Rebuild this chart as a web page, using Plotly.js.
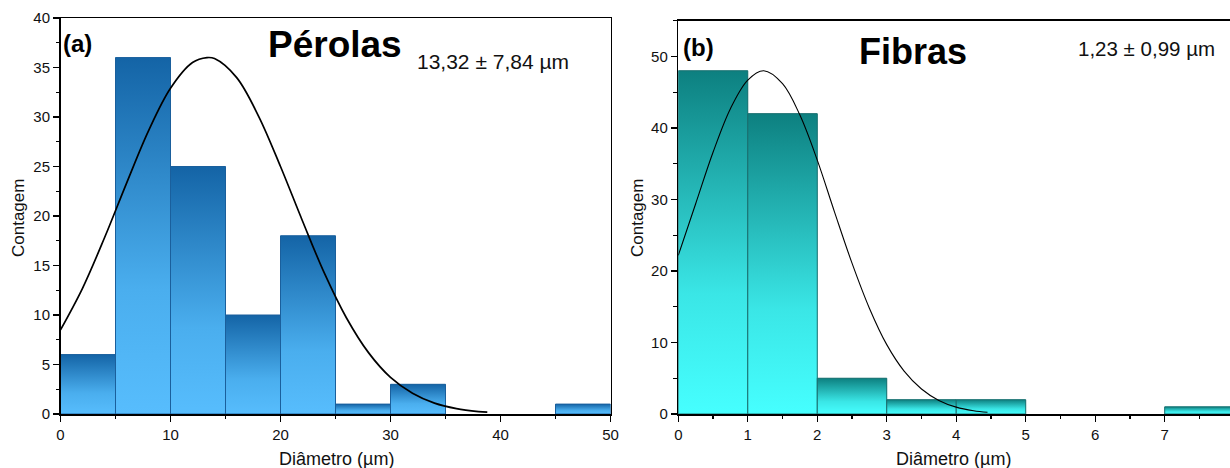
<!DOCTYPE html>
<html>
<head>
<meta charset="utf-8">
<script src="https://cdn.plot.ly/plotly-3.0.1.min.js"></script>
<style>html,body{margin:0;padding:0;background:#fff}#chart{width:1230px;height:468px}</style>
</head>
<body>
<div id="chart"></div>
<script>
// ---- data ----
const perolasBinStart = [0, 5, 10, 15, 20, 25, 30, 35, 40, 45];
const perolasCounts   = [6, 36, 25, 10, 18, 1, 3, 0, 0, 1];
const perolasBinWidth = 5;
const perolasFitX = [0, 2, 4, 6, 8, 10, 12, 13.32, 14, 16, 18, 20, 22, 24, 26, 28, 30, 32, 34, 36, 38, 38.8];
const perolasFitY = [8.5, 12.7, 17.8, 23.3, 28.6, 32.9, 35.5, 36, 35.9, 34.0, 30.1, 25.0, 19.5, 14.2, 9.7, 6.2, 3.7, 2.1, 1.1, 0.55, 0.25, 0.18];

const fibrasBinStart = [0, 1, 2, 3, 4, 5, 6, 7];
const fibrasCounts   = [48, 42, 5, 2, 2, 0, 0, 1];
const fibrasBinWidth = 1;
const fibrasFitX = [0, 0.25, 0.5, 0.75, 1.0, 1.23, 1.5, 1.75, 2.0, 2.25, 2.5, 2.75, 3.0, 3.25, 3.5, 3.75, 4.0, 4.25, 4.45];
const fibrasFitY = [22.2, 29.4, 36.6, 42.7, 46.7, 48, 46.2, 41.8, 35.5, 28.2, 21.1, 14.8, 9.7, 6.0, 3.5, 1.9, 0.96, 0.46, 0.24];

const yTitle = 'Contagem';
const xTitle = 'Diâmetro (µm)';

// ---- styles ----
const FONT = 'Arial, "Liberation Sans", sans-serif';
const blueScale = [[0, '#57bdfd'], [0.35, '#4aaeee'], [1, '#1464a6']];
const tealScale = [[0, '#46ffff'], [0.35, '#3ae6e6'], [1, '#0d8080']];

function histTraces(starts, counts, w, xa, ya, scale, edge, mid) {
  const out = [];
  out.push({
    type: 'bar', x: starts.map(s => s + w / 2), y: counts, width: w,
    xaxis: xa, yaxis: ya, marker: {color: mid, line: {width: 0}}, hoverinfo: 'x+y'
  });
  starts.forEach((s, i) => {
    const c = counts[i];
    if (c <= 0) return;
    out.push({
      type: 'scatter', mode: 'lines', xaxis: xa, yaxis: ya,
      x: [s, s, s + w, s + w, s], y: [0, c, c, 0, 0],
      fill: 'toself',
      fillgradient: {type: 'vertical', colorscale: scale},
      line: {color: edge, width: 1}, hoverinfo: 'skip'
    });
  });
  return out;
}

const data = [].concat(
  histTraces(perolasBinStart, perolasCounts, perolasBinWidth, 'x', 'y', blueScale, '#1a5f9c', '#3a95d8'),
  histTraces(fibrasBinStart, fibrasCounts, fibrasBinWidth, 'x2', 'y2', tealScale, '#1b6f6f', '#2ac2c2'),
  [
    {type: 'scatter', mode: 'lines', x: perolasFitX, y: perolasFitY, xaxis: 'x', yaxis: 'y',
     line: {color: '#000', width: 1.7, shape: 'spline'}},
    {type: 'scatter', mode: 'lines', x: fibrasFitX, y: fibrasFitY, xaxis: 'x2', yaxis: 'y2',
     line: {color: '#000', width: 1.1, shape: 'spline'}}
  ]
);

const axBase = {
  showgrid: false, zeroline: false, showline: true, linecolor: '#000', linewidth: 1.5,
  ticks: 'outside', ticklen: 6, tickwidth: 1.3, tickcolor: '#000',
  tickfont: {family: FONT, size: 15, color: '#111'}, fixedrange: true
};

const W = 1230, H = 468;
const px = v => v / W, py = v => 1 - v / H;

const layout = {
  width: W, height: H,
  margin: {l: 0, r: 0, t: 0, b: 0},
  paper_bgcolor: '#fff', plot_bgcolor: '#fff',
  showlegend: false,
  font: {family: FONT, color: '#111'},
  xaxis: Object.assign({}, axBase, {
    domain: [px(60.5), px(610.5)], range: [0, 50], anchor: 'y', tick0: 0, dtick: 10, mirror: true,
    minor: {dtick: 5, ticks: 'outside', ticklen: 3.5, tickcolor: '#000', tickwidth: 1.2}
  }),
  yaxis: Object.assign({}, axBase, {
    domain: [py(414), py(18)], range: [0, 40], anchor: 'x', tick0: 0, dtick: 5, mirror: true,
    minor: {dtick: 2.5, ticks: 'outside', ticklen: 3.5, tickcolor: '#000', tickwidth: 1.2}
  }),
  xaxis2: Object.assign({}, axBase, {
    domain: [px(678.3), 1], range: [0, 7.94], anchor: 'y2', tick0: 0, dtick: 1, mirror: true,
    minor: {dtick: 0.5, ticks: 'outside', ticklen: 3.5, tickcolor: '#000', tickwidth: 1.2}
  }),
  yaxis2: Object.assign({}, axBase, {
    domain: [py(414), py(20.7)], range: [0, 55], anchor: 'x2', tick0: 0, dtick: 10, mirror: false,
    minor: {dtick: 5, ticks: 'outside', ticklen: 3.5, tickcolor: '#000', tickwidth: 1.2}
  }),
  annotations: [
    {text: '<b>(a)</b>', x: px(61), y: py(43), xref: 'paper', yref: 'paper', xanchor: 'left', yanchor: 'middle', showarrow: false, font: {family: FONT, size: 24, color: '#000'}},
    {text: '<b>Pérolas</b>', x: px(335), y: py(44), xref: 'paper', yref: 'paper', xanchor: 'center', yanchor: 'middle', showarrow: false, font: {family: FONT, size: 37, color: '#000'}},
    {text: '13,32 ± 7,84 µm', x: px(493), y: py(62), xref: 'paper', yref: 'paper', xanchor: 'center', yanchor: 'middle', showarrow: false, font: {family: FONT, size: 21, color: '#111'}},
    {text: '<b>(b)</b>', x: px(681), y: py(48), xref: 'paper', yref: 'paper', xanchor: 'left', yanchor: 'middle', showarrow: false, font: {family: FONT, size: 24, color: '#000'}},
    {text: '<b>Fibras</b>', x: px(913), y: py(51), xref: 'paper', yref: 'paper', xanchor: 'center', yanchor: 'middle', showarrow: false, font: {family: FONT, size: 36, color: '#000'}},
    {text: '1,23 ± 0,99 µm', x: px(1146), y: py(49), xref: 'paper', yref: 'paper', xanchor: 'center', yanchor: 'middle', showarrow: false, font: {family: FONT, size: 20.5, color: '#111'}},
    {text: yTitle, x: px(18), y: py(218), xref: 'paper', yref: 'paper', xanchor: 'center', yanchor: 'middle', textangle: -90, showarrow: false, font: {family: FONT, size: 17, color: '#111'}},
    {text: yTitle, x: px(637), y: py(218), xref: 'paper', yref: 'paper', xanchor: 'center', yanchor: 'middle', textangle: -90, showarrow: false, font: {family: FONT, size: 17, color: '#111'}},
    {text: xTitle, x: px(336), y: py(459), xref: 'paper', yref: 'paper', xanchor: 'center', yanchor: 'middle', showarrow: false, font: {family: FONT, size: 18, color: '#111'}},
    {text: xTitle, x: px(953), y: py(459), xref: 'paper', yref: 'paper', xanchor: 'center', yanchor: 'middle', showarrow: false, font: {family: FONT, size: 18, color: '#111'}}
  ]
};

Plotly.newPlot('chart', data, layout, {displayModeBar: false, staticPlot: true});
</script>
</body>
</html>
